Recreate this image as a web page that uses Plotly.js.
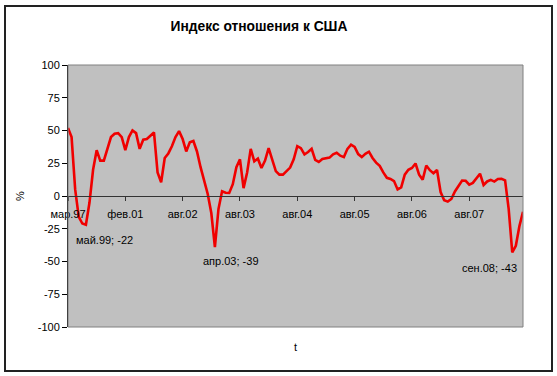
<!DOCTYPE html>
<html>
<head>
<meta charset="utf-8">
<script src="https://cdn.plot.ly/plotly-3.0.1.min.js"></script>
<style>
  html, body { margin: 0; padding: 0; background: #fff; }
  #wrap { position: relative; width: 557px; height: 376px; }
  #chart { position: absolute; left: 0; top: 0; width: 557px; height: 376px; }
  #frame { position: absolute; left: 4px; top: 5px; width: 545px; height: 363px;
           border: 2px solid #222; pointer-events: none; }
</style>
</head>
<body>
<div id="wrap"><div id="chart"></div><div id="frame"></div></div>
<script>
// Index values (one per category position)
const values = [52,45,5,-16,-21,-22,-5,20,35,27,
  27,36,45,47.5,48,45,35,45,50,48,
  36,43,43.5,46,48.5,18,10.5,29,32.5,38,
  45,49.5,43.5,34,41,42,34,22,11.5,1.5,
  -13,-39,-10,3.6,2.5,2.3,9,22,28,6,
  18,36,26.5,28.5,21.4,27,36.5,27,19,16.3,
  16.3,19,21.7,28,38,36.5,31.7,33.6,36,27.5,
  26,28.2,29,29.3,31.8,33,30.8,29.7,36,39.2,
  37.5,32,29.7,32.2,33.8,29,25.5,23,18,13.9,
  13,11.4,5,6.6,16.3,20,21.4,24.8,16.3,12.5,
  23.3,19.7,17.4,19.9,3,-3.2,-4.3,-2.3,3.5,7.6,
  11.8,11.6,8.7,10,13.5,17,8.4,11.1,12.3,11,
  13,13.2,12,-9.8,-43,-38,-23,-12];

// Category positions
const categories = values.map((v, i) => i);

// X tick labels and the categories they sit on
const xTickCats = [0, 16, 32, 48, 64, 80, 96, 112];
const xTickLabels = ['мар.97', 'фев.01', 'авг.02', 'авг.03', 'авг.04', 'авг.05', 'авг.06', 'авг.07'];

// Y ticks
const yTickVals = [-100, -75, -50, -25, 0, 25, 50, 75, 100];
const yTickText = ['-100', '-75', '-50', '-25', '0', '25', '50', '75', '100'];

// Labelled minima
const minCats = [5, 41, 124];
const minLabels = ['май.99; -22', 'апр.03; -39', 'сен.08; -43'];
const minShift = [[19, -15], [16, -14], [-23, -16]];

const FONT = 'Liberation Sans, Arial, sans-serif';

const trace = {
  type: 'scatter', mode: 'lines',
  x: categories, y: values,
  line: { color: '#f00000', width: 2.6 },
  hoverinfo: 'skip', showlegend: false
};

const annotations = minCats.map((c, k) => ({
  x: c, y: values[c], xref: 'x', yref: 'y',
  text: minLabels[k], showarrow: false,
  xshift: minShift[k][0], yshift: minShift[k][1],
  xanchor: 'center', yanchor: 'middle',
  font: { family: FONT, size: 11, color: '#000' }
}));
annotations.push({
  x: 0.5, y: 0, xref: 'paper', yref: 'paper', yshift: -20,
  text: 't', showarrow: false, xanchor: 'center', yanchor: 'middle',
  font: { family: FONT, size: 11, color: '#000' }
});

const layout = {
  width: 557, height: 376,
  margin: { l: 68, r: 34, t: 65, b: 49 },
  paper_bgcolor: 'rgba(0,0,0,0)',
  plot_bgcolor: '#c0c0c0',
  title: {
    text: '<b>Индекс отношения к США</b>',
    x: 259 / 557, xref: 'container', xanchor: 'center',
    y: 1 - 26 / 376, yref: 'container', yanchor: 'middle',
    font: { family: FONT, size: 13.8, color: '#000' }
  },
  xaxis: {
    range: [0, categories.length - 1],
    anchor: 'free', position: 0.5,
    showline: true, linecolor: '#333', linewidth: 1,
    ticks: 'outside', ticklen: 4, tickcolor: '#333',
    tickvals: xTickCats, ticktext: xTickLabels,
    ticklabelstandoff: 4,
    showgrid: false, zeroline: false,
    tickfont: { family: FONT, size: 11, color: '#000' }
  },
  yaxis: {
    range: [-100, 100],
    tickvals: yTickVals, ticktext: yTickText,
    showline: true, linecolor: '#000', linewidth: 1,
    ticks: 'outside', ticklen: 5, tickcolor: '#000',
    showgrid: false, zeroline: false,
    tickfont: { family: FONT, size: 11, color: '#000' },
    title: { text: '%', standoff: 10, font: { family: FONT, size: 11, color: '#000' } }
  },
  shapes: [{
    type: 'rect', xref: 'paper', yref: 'paper', x0: 0, x1: 1, y0: 0, y1: 1,
    line: { color: '#808080', width: 1 }
  }],
  annotations: annotations
};

Plotly.newPlot('chart', [trace], layout, { staticPlot: true, displayModeBar: false });
</script>
</body>
</html>
